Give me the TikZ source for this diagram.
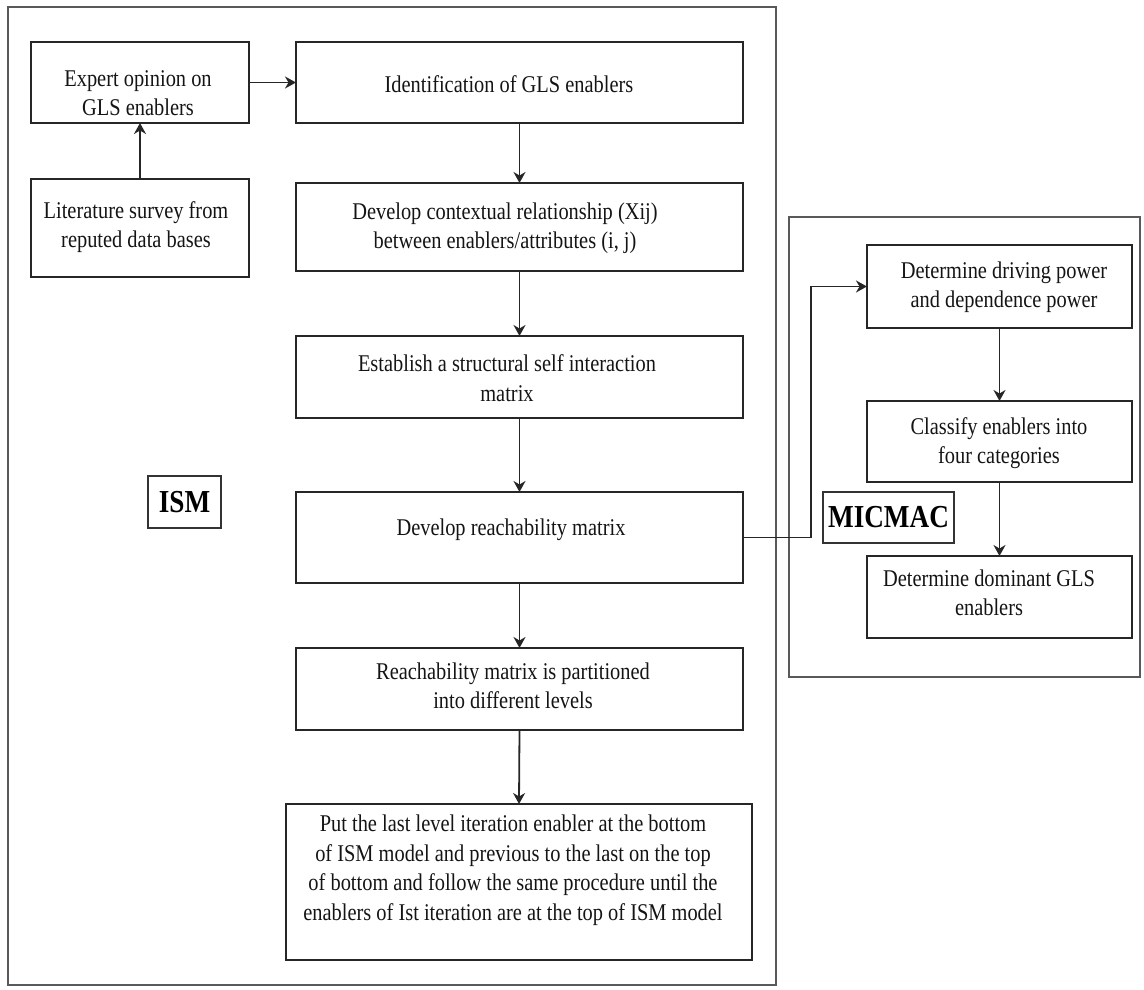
\documentclass[tikz,border=0pt]{standalone}
\usepackage{fontspec}
\setmainfont{Liberation Serif}[FakeStretch=0.85]
\usetikzlibrary{arrows.meta,fit}
\begin{document}
\begin{tikzpicture}[x=1pt,y=-1pt,
  box/.style={draw=black!85, line width=2pt, inner sep=0pt, outer sep=0pt},
  frame/.style={draw=black!65, line width=1.7pt, inner sep=0pt, outer sep=0pt},
  txt/.style={align=center, text=black!92, inner sep=0pt,
    font=\fontsize{24}{29.5}\selectfont},
  tag/.style={draw=black!80, line width=1.8pt, inner sep=0pt, text=black,
    font=\bfseries\fontsize{32}{36}\selectfont},
  flow/.style={draw=black!85, line width=1.8pt,
    -{Stealth[length=11pt,width=12pt,inset=3.5pt]}}
]
\useasboundingbox (0,0) rectangle (1144,989);

% outer frames
\node[frame, fit={(8,7) (776,985)}] (ismframe) {};
\node[frame, fit={(789,217) (1140,677)}] (micframe) {};

% ISM steps
\node[box, fit={(31,42) (249,123)}]   (expert) {};
\node[box, fit={(31,179) (249,277)}]  (lit) {};
\node[box, fit={(296,42) (743,123)}]  (ident) {};
\node[box, fit={(296,183) (743,271)}] (context) {};
\node[box, fit={(296,336) (743,418)}] (ssim) {};
\node[box, fit={(296,492) (743,583)}] (reach) {};
\node[box, fit={(296,648) (743,730)}] (part) {};
\node[box, fit={(286,804) (752,960)}] (levels) {};

\node[txt] (expertT)  at (138,93)  {Expert opinion on\\GLS enablers};
\node[txt] (litT)     at (136,227) {Literature survey from\\reputed data bases};
\node[txt] (identT)   at (509,84)  {Identification of GLS enablers};
\node[txt] (contextT) at (505,228) {Develop contextual relationship (Xij)\\between enablers/attributes (i, j)};
\node[txt] (ssimT)    at (507,378) {Establish a structural self interaction\\matrix};
\node[txt] (reachT)   at (511,530) {Develop reachability matrix};
\node[txt] (partT)    at (513,686) {Reachability matrix is partitioned\\into different levels};
\node[txt] (levelsT)  at (513,870) {Put the last level iteration enabler at the bottom\\of ISM model and previous to the last on the top\\of bottom and follow the same procedure until the\\enablers of Ist iteration are at the top of ISM model};

% MICMAC steps
\node[box, fit={(867,245) (1132,328)}] (drive) {};
\node[box, fit={(867,401) (1132,482)}] (classify) {};
\node[box, fit={(867,556) (1132,638)}] (dominant) {};

\node[txt] (driveT)    at (1004,287) {Determine driving power\\and dependence power};
\node[txt] (classifyT) at (999,443)  {Classify enablers into\\four categories};
\node[txt] (dominantT) at (989,593)  {Determine dominant GLS\\enablers};

% section tags
\node[tag, minimum width=73pt, minimum height=52pt]  (ismtag) at (184.5,502) {ISM};
\node[tag, minimum width=131pt, minimum height=51pt] (mictag) at (888.5,517.5) {MICMAC};

% connectors
\draw[flow] (lit.north) -- (expert.south);
\draw[flow] (expert.east) -- (ident.west);
\draw[flow] (ident.south) -- (context.north);
\draw[flow] (context.south) -- (ssim.north);
\draw[flow] (ssim.south) -- (reach.north);
\draw[flow] (reach.south) -- (part.north);
\draw[flow] (part.south) -- (levels.north);

\coordinate (elbow) at (811,0);
\draw[flow] (reach.east) -- (reach.east -| elbow) |- (drive.west);
\draw[flow] (drive.south) -- (classify.north);
\draw[flow] (classify.south) -- (dominant.north);
\end{tikzpicture}
\end{document}
